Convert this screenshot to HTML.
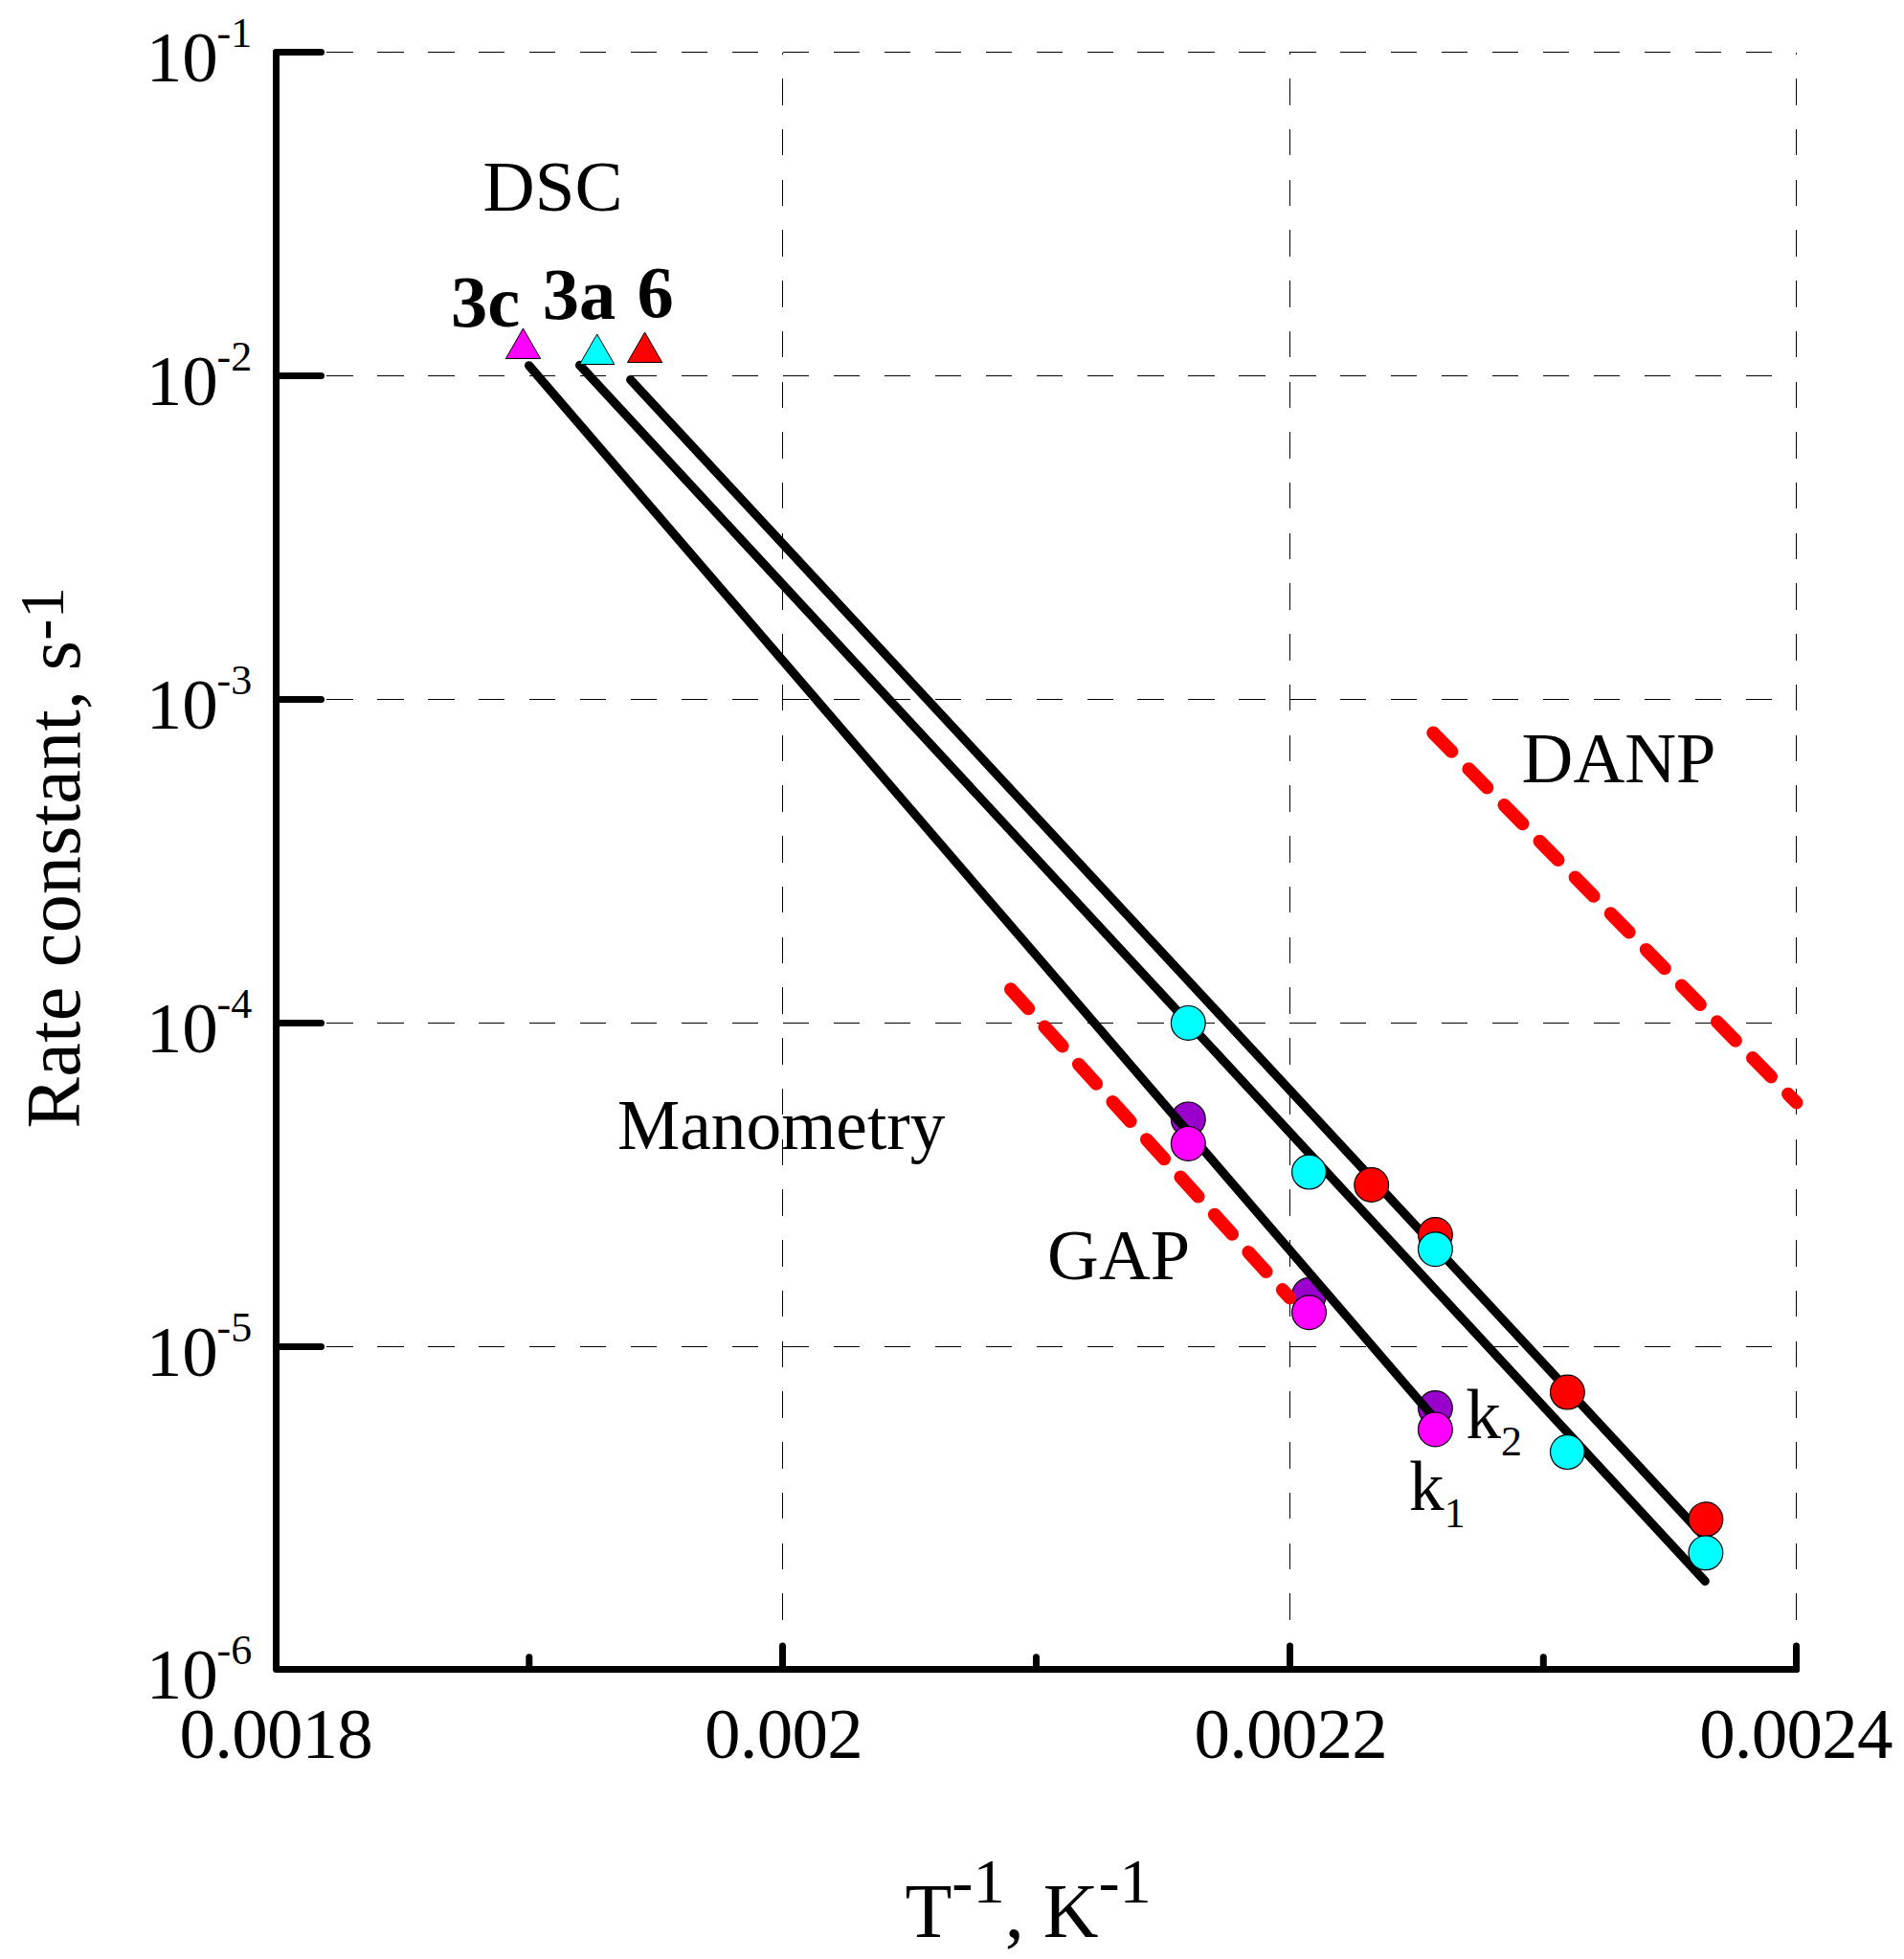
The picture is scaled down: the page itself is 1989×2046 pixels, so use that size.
<!DOCTYPE html>
<html lang="en"><head><meta charset="utf-8"><title>Rate constant vs inverse temperature</title>
<style>html,body{margin:0;padding:0;background:#fff;}svg{display:block;}text{font-family:"Liberation Serif", serif;fill:#000;}</style>
</head><body>
<svg width="1989" height="2046" viewBox="0 0 1989 2046">
<rect x="0" y="0" width="1989" height="2046" fill="#ffffff"/>
<g stroke="#000" stroke-width="1" fill="none" shape-rendering="crispEdges">
<line x1="288.5" y1="54.5" x2="1876.6" y2="54.5" stroke-dasharray="27.2 25.74"/>
<line x1="288.5" y1="392.5" x2="1876.6" y2="392.5" stroke-dasharray="27.2 25.74"/>
<line x1="288.5" y1="730.5" x2="1876.6" y2="730.5" stroke-dasharray="27.2 25.74"/>
<line x1="288.5" y1="1068.5" x2="1876.6" y2="1068.5" stroke-dasharray="27.2 25.74"/>
<line x1="288.5" y1="1406.5" x2="1876.6" y2="1406.5" stroke-dasharray="27.2 25.74"/>
<line x1="817.5" y1="1744.5" x2="817.5" y2="54.5" stroke-dasharray="27.5 25.24"/>
<line x1="1347.5" y1="1744.5" x2="1347.5" y2="54.5" stroke-dasharray="27.5 25.24"/>
<line x1="1876.5" y1="1744.5" x2="1876.5" y2="54.5" stroke-dasharray="27.5 25.24"/>
</g>
<g>
<circle cx="1241.3" cy="1168.9" r="17.9" fill="#9900cc" stroke="#000" stroke-width="1.2"/>
<circle cx="1367.5" cy="1352.6" r="17.9" fill="#9900cc" stroke="#000" stroke-width="1.2"/>
<circle cx="1499.4" cy="1470.6" r="17.9" fill="#9900cc" stroke="#000" stroke-width="1.2"/>
</g>
<g stroke="#000" stroke-width="9.3" stroke-linecap="round" fill="none">
<line x1="552.6" y1="381.8" x2="1499.0" y2="1482.0"/>
<line x1="605.6" y1="381.4" x2="1781.2" y2="1651.3"/>
<line x1="658.7" y1="396.7" x2="1779.0" y2="1603.5"/>
</g>
<g stroke="#ff0000" stroke-width="13.8" stroke-linecap="round" fill="none" stroke-dasharray="27.4 25.5">
<line x1="1055.9" y1="1033.1" x2="1347.5" y2="1355.6"/>
<line x1="1497.2" y1="765.4" x2="1876.6" y2="1151.5"/>
</g>
<g stroke="#000" stroke-width="7" stroke-linecap="round" stroke-linejoin="round" fill="none">
<polyline points="288.5,54.5 288.5,1743.5 1876.6,1743.5"/>
<line x1="288.5" y1="54.5" x2="335.5" y2="54.5"/>
<line x1="288.5" y1="392.5" x2="335.5" y2="392.5"/>
<line x1="288.5" y1="730.5" x2="335.5" y2="730.5"/>
<line x1="288.5" y1="1068.5" x2="335.5" y2="1068.5"/>
<line x1="288.5" y1="1406.5" x2="335.5" y2="1406.5"/>
<line x1="817.5" y1="1743.5" x2="817.5" y2="1719.0"/>
<line x1="1347.5" y1="1743.5" x2="1347.5" y2="1719.0"/>
<line x1="1876.5" y1="1743.5" x2="1876.5" y2="1719.0"/>
<line x1="552.8" y1="1743.5" x2="552.8" y2="1730.8"/>
<line x1="1082.5" y1="1743.5" x2="1082.5" y2="1730.8"/>
<line x1="1612.3" y1="1743.5" x2="1612.3" y2="1730.8"/>
</g>
<g>
<polygon points="546.5,343.0 564.6,374.5 528.4,374.5" fill="#ff00ff" stroke="#000" stroke-width="1" stroke-linejoin="miter"/>
<polygon points="623.7,349.0 641.8,380.5 605.6,380.5" fill="#00ffff" stroke="#000" stroke-width="1" stroke-linejoin="miter"/>
<polygon points="673.6,347.0 691.7,378.5 655.5,378.5" fill="#ff0000" stroke="#000" stroke-width="1" stroke-linejoin="miter"/>
</g>
<g>
<circle cx="1432.7" cy="1237.5" r="17.9" fill="#ff0000" stroke="#000" stroke-width="1.2"/>
<circle cx="1499.4" cy="1289.5" r="17.9" fill="#ff0000" stroke="#000" stroke-width="1.2"/>
<circle cx="1637.4" cy="1454.1" r="17.9" fill="#ff0000" stroke="#000" stroke-width="1.2"/>
<circle cx="1781.9" cy="1586.8" r="17.9" fill="#ff0000" stroke="#000" stroke-width="1.2"/>
<circle cx="1241.3" cy="1068.4" r="17.9" fill="#00ffff" stroke="#000" stroke-width="1.2"/>
<circle cx="1367.5" cy="1224.1" r="17.9" fill="#00ffff" stroke="#000" stroke-width="1.2"/>
<circle cx="1499.4" cy="1304.7" r="17.9" fill="#00ffff" stroke="#000" stroke-width="1.2"/>
<circle cx="1637.4" cy="1516.6" r="17.9" fill="#00ffff" stroke="#000" stroke-width="1.2"/>
<circle cx="1781.9" cy="1621.8" r="17.9" fill="#00ffff" stroke="#000" stroke-width="1.2"/>
<circle cx="1241.3" cy="1194.4" r="17.9" fill="#ff00ff" stroke="#000" stroke-width="1.2"/>
<circle cx="1367.5" cy="1370.7" r="17.9" fill="#ff00ff" stroke="#000" stroke-width="1.2"/>
<circle cx="1499.4" cy="1492.9" r="17.9" fill="#ff00ff" stroke="#000" stroke-width="1.2"/>
</g>
<g font-size="75">
<text x="152.8" y="85.2">10<tspan font-size="44" dx="-1.3" dy="-36.5">-1</tspan></text>
<text x="152.8" y="423.2">10<tspan font-size="44" dx="-1.3" dy="-36.5">-2</tspan></text>
<text x="152.8" y="761.2">10<tspan font-size="44" dx="-1.3" dy="-36.5">-3</tspan></text>
<text x="152.8" y="1099.2">10<tspan font-size="44" dx="-1.3" dy="-36.5">-4</tspan></text>
<text x="152.8" y="1437.2">10<tspan font-size="44" dx="-1.3" dy="-36.5">-5</tspan></text>
<text x="152.8" y="1774.2">10<tspan font-size="44" dx="-1.3" dy="-36.5">-6</tspan></text>
<text x="288.3" y="1836.4" text-anchor="middle" letter-spacing="-0.8">0.0018</text>
<text x="818.5" y="1836.4" text-anchor="middle" letter-spacing="-0.8">0.002</text>
<text x="1348.2" y="1836.4" text-anchor="middle" letter-spacing="-0.8">0.0022</text>
<text x="1875.9" y="1836.4" text-anchor="middle" letter-spacing="-0.8">0.0024</text>
</g>
<g font-size="73.4">
<text x="504.6" y="219.8" font-size="75">DSC</text>
<text x="645.0" y="1199.8">Manometry</text>
<text x="1094.1" y="1336.0" font-size="74.5">GAP</text>
<text x="1589.6" y="817.2" font-size="74.5">DANP</text>
<text x="1531.3" y="1501.9">k<tspan font-size="44" dy="18">2</tspan></text>
<text x="1472.1" y="1576.9">k<tspan font-size="44" dy="18">1</tspan></text>
</g>
<g font-size="76.5" font-weight="bold">
<text x="471.0" y="341.4">3c</text>
<text x="566.8" y="333.2">3a</text>
<text x="665.4" y="330.7">6</text>
</g>
<g font-size="80">
<text x="945.4" y="2022.9">T<tspan font-size="66.5" dy="-36.2">-1</tspan><tspan dy="36.2">, K</tspan><tspan font-size="66.5" dy="-36.2">-1</tspan></text>
<text transform="translate(82.9,1178.4) rotate(-90)" x="0" y="0" letter-spacing="0.33">Rate constant, s<tspan font-size="66.5" dy="-16.8">-1</tspan></text>
</g>
</svg>
</body></html>
